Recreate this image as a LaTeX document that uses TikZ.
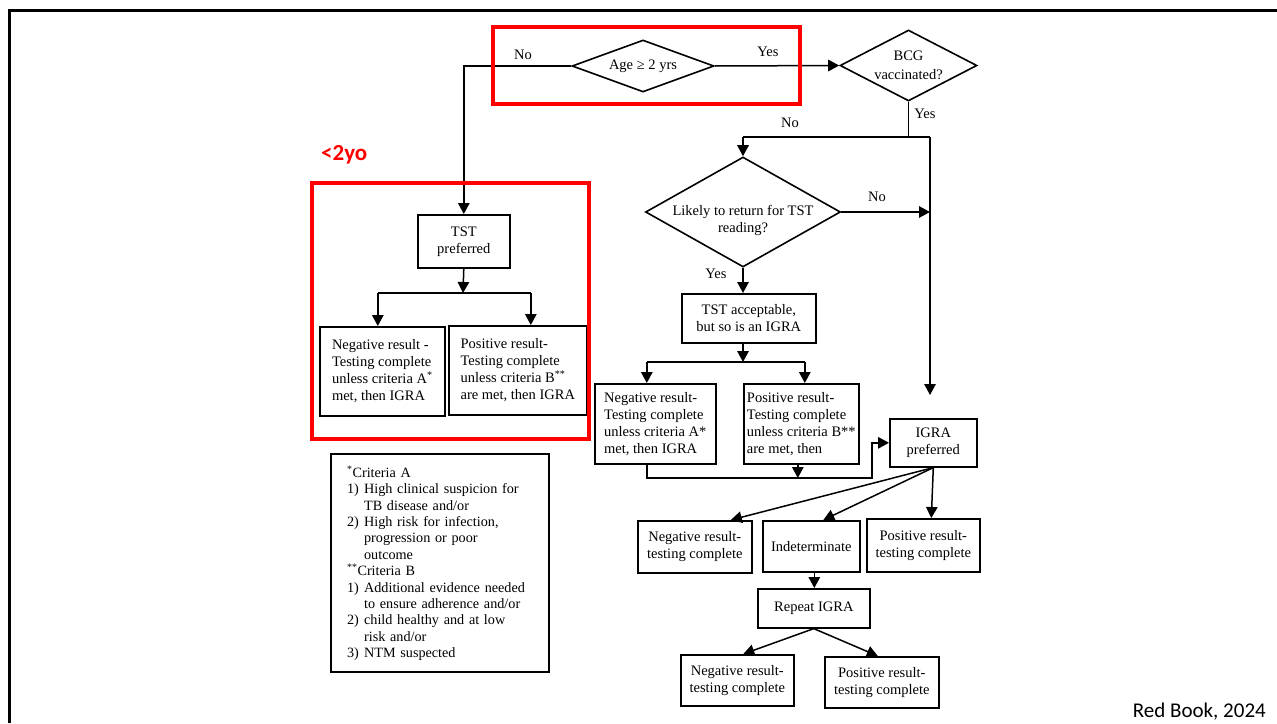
\documentclass[tikz,border=0pt]{standalone}
\usepackage{fontspec}
\setmainfont{Liberation Serif}
\newfontfamily\calibri{Carlito}
\usetikzlibrary{shapes.geometric,arrows.meta}

\begin{document}
\begin{tikzpicture}[x=1pt,y=-1pt,
  txt/.style={font=\fontsize{14.5}{17}\selectfont},
  box/.style={draw,line width=1.6pt,txt,inner sep=0pt,anchor=north west,align=center},
  lbox/.style={box,align=left},
  dia/.style={draw,diamond,line width=1.6pt,inner sep=0pt},
  lbl/.style={txt,inner sep=0pt},
  arr/.style={line width=1.5pt,-{Triangle[length=11pt,width=11.5pt]}},
  ln/.style={line width=1.5pt},
  redbox/.style={draw=red,line width=3.5pt}
]
\useasboundingbox (0,0) rectangle (1277,723);

% slide frame
\draw[line width=3pt] (9.5,723) -- (9.5,10.5) -- (1277,10.5);

% decisions
\node[dia,minimum width=142pt,minimum height=52pt] (age) at (643,66) {};
\node[txt] (agetxt) at (643,66) {Age ≥ 2 yrs};
\node[dia,minimum width=137pt,minimum height=71pt] (bcg) at (908.5,65.5) {};
\node[txt,align=center,font=\fontsize{14.5}{19}\selectfont] (bcgtxt) at (908.5,65) {BCG\\vaccinated?};
\node[dia,minimum width=195pt,minimum height=110pt] (likely) at (743,212) {};
\node[txt,align=center] (likelytxt) at (743,220) {Likely to return for TST\\reading?};

% under two years
\node[box,minimum width=92pt,minimum height=53pt] (tstp) at (417,214) {TST\\preferred};
\node[lbox,minimum width=125pt,minimum height=89pt] (neg1) at (319,326)
  {Negative result -\\Testing complete\\unless criteria A\textsuperscript{*}\\met, then IGRA};
\node[lbox,minimum width=138pt,minimum height=89pt] (pos1) at (448,325)
  {Positive result-\\Testing complete\\unless criteria B\textsuperscript{**}\\are met, then IGRA};

% not vaccinated, likely to return
\node[box,minimum width=134pt,minimum height=49pt] (tsta) at (681,293) {TST acceptable,\\but so is an IGRA};
\node[lbox,minimum width=121pt,minimum height=80pt] (neg2) at (594,383)
  {Negative result-\\Testing complete\\unless criteria A*\\met, then IGRA};
\node[lbox,minimum width=115pt,minimum height=80pt] (pos2) at (743,383)
  {Positive result-\\Testing complete\\unless criteria B**\\are met, then};

% IGRA branch
\node[box,minimum width=87pt,minimum height=48pt] (igra) at (889,418) {IGRA\\preferred};
\node[box,minimum width=114pt,minimum height=52pt] (neg3) at (637,520) {Negative result-\\testing complete};
\node[box,minimum width=97pt,minimum height=51pt] (indet) at (762,520) {Indeterminate};
\node[box,minimum width=113pt,minimum height=53pt] (pos3) at (866,518) {Positive result-\\testing complete};
\node[box,minimum width=112pt,minimum height=39pt] (rep) at (757,588) {Repeat IGRA};
\node[box,minimum width=113pt,minimum height=51pt] (neg4) at (680,654) {Negative result-\\testing complete};
\node[box,minimum width=114pt,minimum height=51pt] (pos4) at (824,656) {Positive result-\\testing complete};

% footnote criteria
\node[lbox,line width=2.2pt,text width=186pt,inner xsep=16pt,minimum height=218pt,
      font=\fontsize{14.2}{16.4}\selectfont] (crit) at (330,453)
  {\mbox{\textsuperscript{*}Criteria A}\\
   \mbox{\makebox[17pt][l]{1)}High clinical suspicion for}\\
   \mbox{\hspace*{17pt}TB disease and/or}\\
   \mbox{\makebox[17pt][l]{2)}High risk for infection,}\\
   \mbox{\hspace*{17pt}progression or poor}\\
   \mbox{\hspace*{17pt}outcome}\\
   \mbox{\textsuperscript{**}Criteria B}\\
   \mbox{\makebox[17pt][l]{1)}Additional evidence needed}\\
   \mbox{\hspace*{17pt}to ensure adherence and/or}\\
   \mbox{\makebox[17pt][l]{2)}child healthy and at low}\\
   \mbox{\hspace*{17pt}risk and/or}\\
   \mbox{\makebox[17pt][l]{3)}NTM suspected}};

% branch labels
\node[lbl] (lno1) at (523,55) {No};
\node[lbl] (lyes1) at (768,52) {Yes};
\node[lbl] (lyes2) at (925,114) {Yes};
\node[lbl] (lno2) at (790,123) {No};
\node[lbl] (lno3) at (877,197) {No};
\node[lbl] (lyes3) at (716,274) {Yes};

% junction points
\coordinate (j1) at (463,293);
\coordinate (j2) at (743,362);
\coordinate (j3) at (872,478);
\coordinate (j4) at (908.5,137);
\coordinate (rt) at (930,137);
\coordinate (rb) at (930,395);
\coordinate (n1t) at ([xshift=-4.5pt]neg1.north);
\coordinate (p1t) at ([xshift=13pt]pos1.north);
\coordinate (n2t) at ([xshift=-8.5pt]neg2.north);
\coordinate (p2t) at ([xshift=3.5pt]pos2.north);
\coordinate (n2b) at ([xshift=-8.5pt]neg2.south);
\coordinate (p2b) at ([xshift=-3.5pt]pos2.south);

% top connectors
\draw[arr] (age.west) -| (tstp.north);
\draw[arr] (age.east) -- (bcg.west);
\draw[ln] (bcg.south) -- (j4);
\draw[ln] (likely.north |- j4) -- (rt);
\draw[arr] (likely.north |- j4) -- (likely.north);
\draw[arr] (rt) -- (rb);
\draw[arr] (likely.east) -- (likely.east -| rt);
\draw[arr] (likely.south) -- (likely.south |- tsta.north);

% under two years connectors
\draw[arr] (tstp.south) -- (j1);
\draw[ln] (n1t |- j1) -- (p1t |- j1);
\draw[arr] (n1t |- j1) -- (n1t);
\draw[arr] (p1t |- j1) -- (p1t);

% TST acceptable connectors
\draw[arr] (j2 |- tsta.south) -- (j2);
\draw[ln] (n2t |- j2) -- (p2t |- j2);
\draw[arr] (n2t |- j2) -- (n2t);
\draw[arr] (p2t |- j2) -- (p2t);
\draw[arr] (n2b) |- (j3) |- (igra.west);
\draw[arr] (p2b) -- (p2b |- j3);

% IGRA connectors
\draw[arr] (igra.south) -- ([xshift=36pt]neg3.north);
\draw[arr] (igra.south) -- ([xshift=12pt]indet.north);
\draw[arr] (igra.south) -- ([xshift=8pt]pos3.north);
\draw[arr] ([xshift=3pt]indet.south) -- ([xshift=3pt]indet.south |- rep.north);
\draw[arr] (rep.south) -- ([xshift=6pt]neg4.north);
\draw[arr] (rep.south) -- ([xshift=-4pt]pos4.north);

% highlights
\draw[redbox] (493,27) rectangle (800,104);
\draw[redbox] (312,183) rectangle (589,439);
\node[anchor=west,inner sep=0pt,text=red,font=\calibri\bfseries\fontsize{23}{26}\selectfont] (under2) at (321,155) {<2yo};

% source
\node[anchor=base east,inner sep=0pt,font=\calibri\fontsize{21}{24}\selectfont] (src) at (1266,717) {Red Book, 2024};
\end{tikzpicture}
\end{document}
